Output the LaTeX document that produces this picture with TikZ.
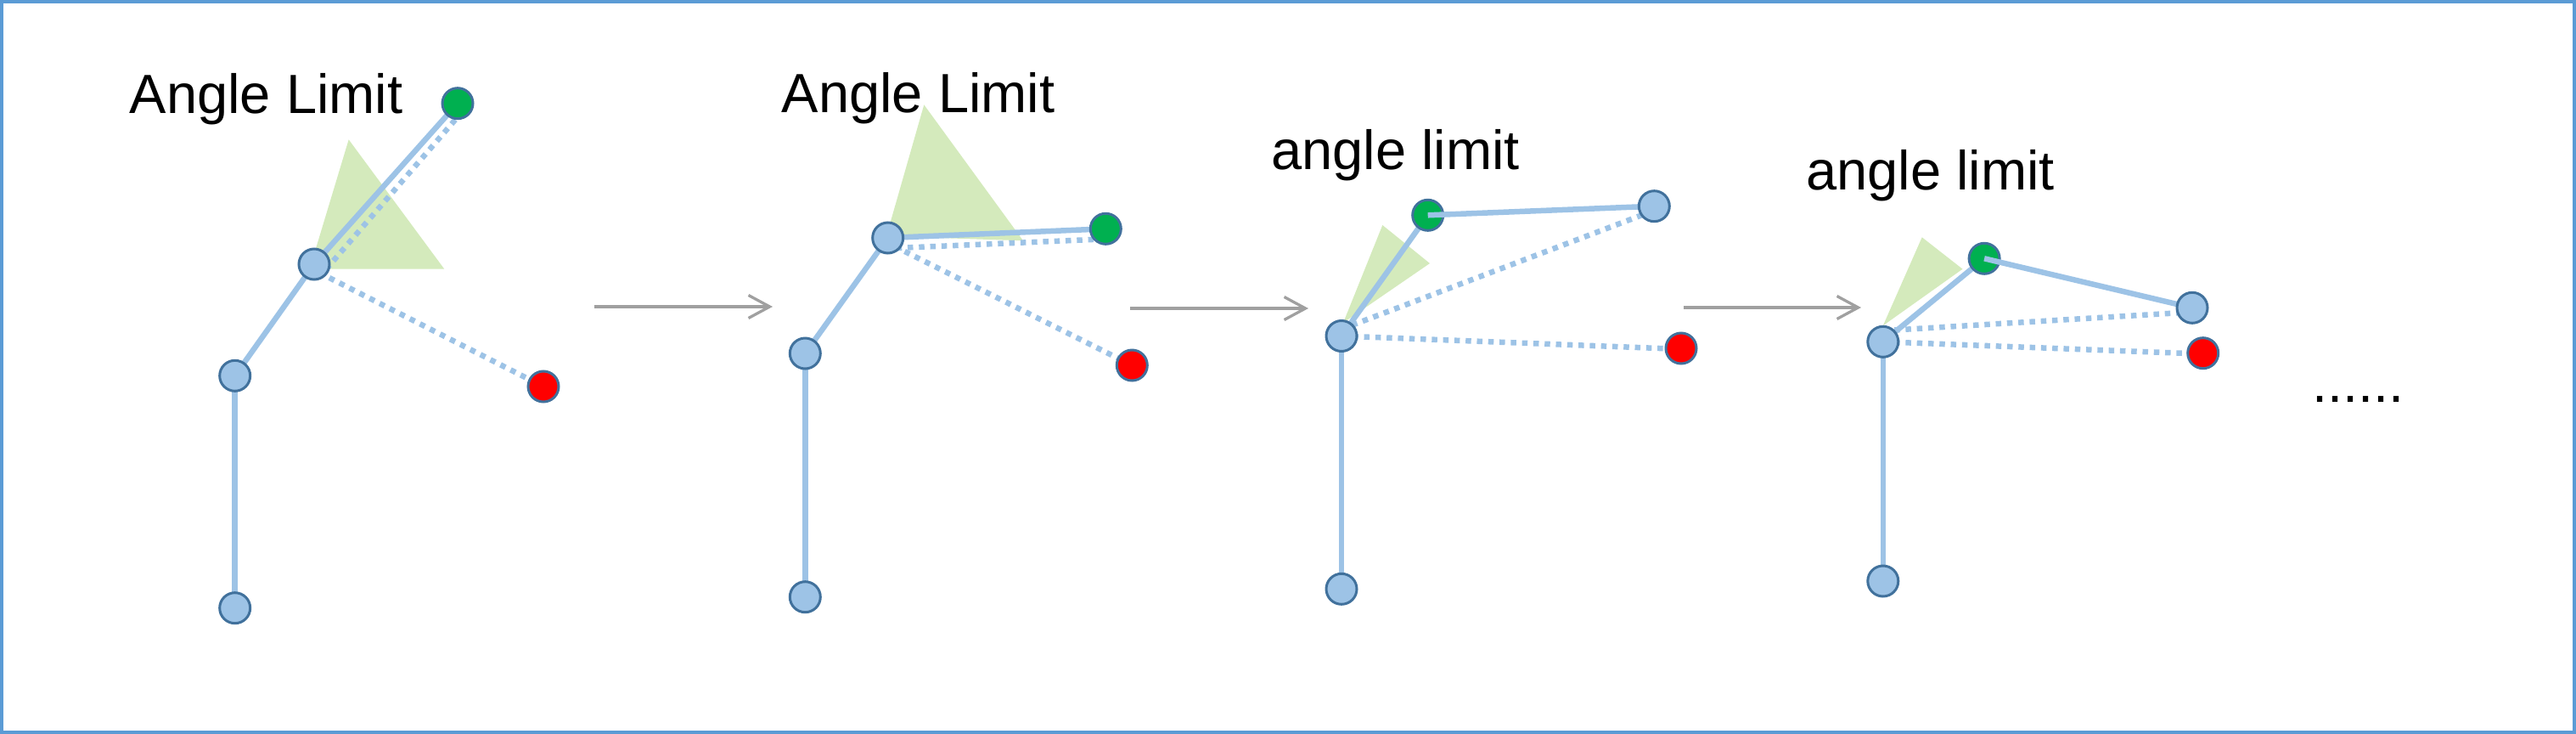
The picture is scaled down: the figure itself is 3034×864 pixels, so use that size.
\documentclass[tikz,border=0pt]{standalone}
\usepackage{fontspec}
\setmainfont{Liberation Sans}
\usetikzlibrary{arrows.meta,backgrounds}
\definecolor{jfill}{RGB}{157,195,230}
\definecolor{jdraw}{RGB}{65,113,156}
\definecolor{gfill}{RGB}{0,176,80}
\definecolor{trifill}{RGB}{212,234,188}
\definecolor{framec}{RGB}{91,155,213}
\definecolor{arrc}{RGB}{160,160,160}
\begin{document}
\begin{tikzpicture}[x=1pt,y=-1pt,
  joint/.style={circle,fill=jfill,draw=jdraw,line width=3pt,minimum size=36pt,inner sep=0pt},
  effector/.style={joint,fill=gfill},
  target/.style={joint,fill=red},
  bone/.style={draw=jfill,line width=6.5pt},
  reach/.style={draw=jfill,line width=6.5pt,dash pattern=on 6.5pt off 6.8pt},
  limit/.style={fill=trifill},
  lbl/.style={anchor=base west,inner sep=0pt,font=\fontsize{65pt}{78pt}\selectfont},
  lbls/.style={anchor=base west,inner sep=0pt,font=\fontsize{65pt}{78pt}\selectfont},
  flow/.style={draw=arrc,line width=3.3pt,-{Straight Barb[length=25pt,width=27pt]}}
]
\useasboundingbox (0,0) rectangle (3034,864);
\draw[framec,line width=4pt] (2,2) rectangle (3032,862);

% ---------- figure 1 ----------
\node[joint] (b1) at (276.7,715.7) {};
\node[joint] (k1) at (276.7,442.3) {};
\node[joint] (j1) at (370,311) {};
\node[effector] (e1) at (539,121.7) {};
\node[target] (t1) at (640,455) {};
\node[lbl] (l1) at (152.7,133.3) {Angle Limit};
\begin{pgfonlayer}{background}
\fill[limit] (364.7,316.7) -- (410.7,164.3) -- (523.3,316.7) -- cycle;
\draw[bone] (b1.center) -- (k1.center);
\draw[bone] (k1.center) -- (j1.center);
\draw[bone] (j1.center) -- (e1.center);
\draw[reach] ([shift={(14,6)}]j1.center) -- ([shift={(0,16)}]e1.center);
\draw[reach] ([shift={(6,10)}]j1.center) -- (t1.center);
\end{pgfonlayer}

% ---------- figure 2 ----------
\node[joint] (b2) at (948.3,702.7) {};
\node[joint] (k2) at (948.3,416) {};
\node[joint] (j2) at (1045.7,280) {};
\node[effector] (e2) at (1302.3,269.3) {};
\node[target] (t2) at (1333.3,430) {};
\node[lbl] (l2) at (920.7,132.3) {Angle Limit};
\begin{pgfonlayer}{background}
\fill[limit] (1044,278) -- (1088.3,123.3) -- (1205,283.3) -- cycle;
\draw[bone] (b2.center) -- (k2.center);
\draw[bone] (k2.center) -- (j2.center);
\draw[bone] (j2.center) -- (e2.center);
\draw[reach] ([shift={(10,12)}]j2.center) -- ([shift={(0,12)}]e2.center);
\draw[reach] ([shift={(8,10)}]j2.center) -- (t2.center);
\end{pgfonlayer}

% ---------- figure 3 ----------
\node[joint] (b3) at (1580,693.3) {};
\node[joint] (j3) at (1580,395.5) {};
\node[effector] (e3) at (1681.7,253.3) {};
\node[target] (t3) at (1980,410) {};
\node[lbls] (l3) at (1497,199.3) {angle limit};
\draw[bone] (e3.center) -- (1948.3,242.7);
\node[joint] (n3) at (1948.3,242.7) {};
\begin{pgfonlayer}{background}
\fill[limit] (1582,380) -- (1628.3,265) -- (1684,310) -- cycle;
\draw[bone] (b3.center) -- (j3.center);
\draw[bone] (j3.center) -- (e3.center);
\draw[reach] ([shift={(0,-8)}]j3.center) -- ([shift={(0,5)}]n3.center);
\draw[reach] (j3.center) -- ([shift={(0,1)}]t3.center);
\end{pgfonlayer}

% ---------- figure 4 ----------
\node[joint] (b4) at (2217.8,684) {};
\node[joint] (j4) at (2217.8,402.3) {};
\node[effector] (e4) at (2337.1,304.3) {};
\node[target] (t4) at (2594.7,415.7) {};
\node[lbls] (l4) at (2127.3,223.3) {angle limit};
\draw[bone] (e4.center) -- (2582,362.3);
\node[joint] (n4) at (2582,362.3) {};
\begin{pgfonlayer}{background}
\fill[limit] (2217.8,383.3) -- (2263.7,279.3) -- (2311.5,316.7) -- cycle;
\draw[bone] (b4.center) -- (j4.center);
\draw[bone] (j4.center) -- (e4.center);
\draw[reach] ([shift={(0,-13)}]j4.center) -- ([shift={(0,5)}]n4.center);
\draw[reach] (j4.center) -- ([shift={(0,1)}]t4.center);
\end{pgfonlayer}

\node[lbl] (more) at (2723,473) {......};

% ---------- arrows ----------
\coordinate (a1s) at (700,361);
\coordinate (a1e) at (910,361);
\coordinate (a2s) at (1331,363);
\coordinate (a2e) at (1541,363);
\coordinate (a3s) at (1983,362);
\coordinate (a3e) at (2192,362);
\draw[flow] (a1s) -- (a1e);
\draw[flow] (a2s) -- (a2e);
\draw[flow] (a3s) -- (a3e);
\end{tikzpicture}
\end{document}
